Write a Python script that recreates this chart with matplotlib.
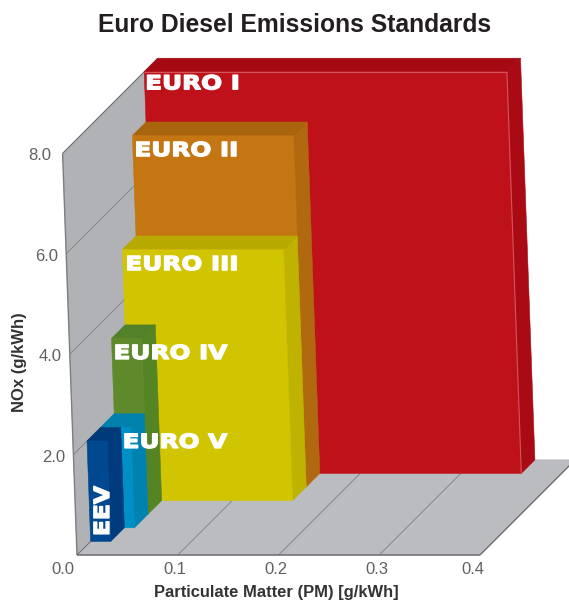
import matplotlib
matplotlib.use("Agg")
import matplotlib.pyplot as plt
from matplotlib.patches import Polygon
from matplotlib.patheffects import AbstractPathEffect
from matplotlib.transforms import Affine2D

# data, back to front
standards = ["EURO I", "EURO II", "EURO III", "EURO IV", "EURO V", "EEV"]
pm_limits = [0.36, 0.16, 0.16, 0.03, 0.03, 0.02]
nox_limits = [8.0, 7.0, 5.0, 3.5, 2.0, 2.0]
depth_slots = [6, 5, 4, 3, 2, 1]

pm_ticks = [0.0, 0.1, 0.2, 0.3, 0.4]
nox_ticks = [2.0, 4.0, 6.0, 8.0]

front_colors = ["#bf111a", "#c47612", "#d1c400", "#5f8a2c", "#0090c6", "#00488f"]
side_colors = ["#aa0a14", "#b0690f", "#bfb200", "#558425", "#0082b0", "#003c7d"]
top_colors = ["#a50a12", "#a9650d", "#b7a900", "#53812a", "#0081ad", "#003a78"]

# label offset from the top left corner of each front face
label_offsets = [(1, 12), (2, 15), (3, 15), (2, 15), (22, 15), (16, 70)]

ORIGIN_X, ORIGIN_Y = 77, 555
PM_SCALE = 1007.5
NOX_SCALE = 50.2
NOX_LEAN = 1.8
SLOT = 13.6
N_SLOTS = 7


class Stretch(AbstractPathEffect):
    # the bar labels are set in an extended face, so widen the glyphs around the anchor
    def __init__(self, anchor, sx=1.0, sy=1.0, stroke=0.5):
        super().__init__()
        self.anchor = anchor
        self.sx = sx
        self.sy = sy
        self.stroke = stroke

    def draw_path(self, renderer, gc, tpath, affine, rgbFace=None):
        ax0, ay0 = self.anchor
        t = affine + Affine2D().translate(-ax0, -ay0).scale(self.sx, self.sy).translate(ax0, ay0)
        gc0 = renderer.new_gc()
        gc0.copy_properties(gc)
        gc0.set_foreground("white")
        gc0.set_linewidth(self.stroke)
        renderer.draw_path(gc0, tpath, t, rgbFace)
        gc0.restore()


def project(pm, nox, slot):
    # simple oblique projection, the walls lean a bit towards the top
    off = slot * SLOT
    x = ORIGIN_X + pm * PM_SCALE - nox * NOX_LEAN + off
    y = ORIGIN_Y - nox * NOX_SCALE - off
    return x, y


def face(ax, corners, color, z):
    pts = [project(*c) for c in corners]
    ax.add_patch(Polygon(pts, closed=True, facecolor=color, edgecolor=color, linewidth=0.4, zorder=z))


def line(ax, a, b, color, lw, z):
    p, q = project(*a), project(*b)
    ax.plot([p[0], q[0]], [p[1], q[1]], color=color, lw=lw, zorder=z, solid_capstyle="butt")


plt.rcParams["font.family"] = ["Liberation Sans", "DejaVu Sans"]
fig = plt.figure(figsize=(5.69, 6.0), dpi=100)
ax = fig.add_axes([0, 0, 1, 1])
ax.set_xlim(0, 569)
ax.set_ylim(600, 0)
ax.axis("off")

pm_max = pm_ticks[-1]
nox_max = nox_ticks[-1]

# floor and left wall
face(ax, [(0, 0, 0), (pm_max, 0, 0), (pm_max, 0, N_SLOTS), (0, 0, N_SLOTS)], "#bbbcbf", 1)
face(ax, [(0, 0, 0), (0, nox_max, 0), (0, nox_max, N_SLOTS), (0, 0, N_SLOTS)], "#b1b2b6", 1)

for pm in pm_ticks[1:-1]:
    line(ax, (pm, 0, 0), (pm, 0, N_SLOTS), "#808184", 0.6, 2)
for nox in nox_ticks[:-1]:
    line(ax, (0, nox, 0), (0, nox, N_SLOTS), "#808184", 0.6, 2)

line(ax, (0, 0, 0), (pm_max, 0, 0), "#6d6e71", 1.1, 3)
line(ax, (pm_max, 0, 0), (pm_max, 0, N_SLOTS), "#6d6e71", 1.0, 3)
line(ax, (0, 0, 0), (0, nox_max, 0), "#7d7e81", 1.0, 3)
line(ax, (0, nox_max, 0), (0, nox_max, N_SLOTS), "#6d6e71", 0.8, 3)
line(ax, (0, 0, 0), (0, 0, N_SLOTS), "#6d6e71", 0.7, 3)

# bars, back one first so the nearer ones cover it
for i, name in enumerate(standards):
    pm, nox, s = pm_limits[i], nox_limits[i], depth_slots[i]
    z = 10 + i
    face(ax, [(pm, 0, s), (pm, nox, s), (pm, nox, s + 1), (pm, 0, s + 1)], side_colors[i], z)
    face(ax, [(0, nox, s), (pm, nox, s), (pm, nox, s + 1), (0, nox, s + 1)], top_colors[i], z)
    face(ax, [(0, 0, s), (pm, 0, s), (pm, nox, s), (0, nox, s)], front_colors[i], z)

    tx, ty = project(0, nox, s)
    dx, dy = label_offsets[i]
    anchor = ax.transData.transform((tx + dx, ty + dy))
    if name == "EEV":
        ax.text(tx + dx, ty + dy, name, color="white", fontsize=15, fontweight="bold", family="DejaVu Sans",
                rotation=90, ha="center", va="center", zorder=30,
                path_effects=[Stretch(anchor, sy=1.12, stroke=1.0)])
    else:
        ax.text(tx + dx, ty + dy, name, color="white", fontsize=14, fontweight="bold", family="DejaVu Sans",
                ha="left", va="center", zorder=30,
                path_effects=[Stretch(anchor, sx=1.27, stroke=1.0)])

# light highlight along the red bar
line(ax, (0, 8.0, 6), (0.36, 8.0, 6), "#d4545c", 0.8, 11)
line(ax, (0.36, 0, 6), (0.36, 8.0, 6), "#d4545c", 0.8, 11)

# tick labels
for pm in pm_ticks:
    x, y = project(pm, 0, 0)
    shift = -14 if pm == 0 else (-7 if pm == pm_max else -2.5)
    ax.text(x + shift, y + 14, f"{pm:.1f}", fontsize=12, color="#5f6062", ha="center", va="center")
for nox in nox_ticks:
    x, y = project(0, nox, 0)
    shift = -11 if nox == nox_max else -8
    ax.text(x + shift, y + 2.5, f"{nox:.1f}", fontsize=12, color="#5f6062", ha="right", va="center")

ax.text(295, 25, "Euro Diesel Emissions Standards", fontsize=17.7, fontweight="bold", color="#231f20",
        ha="center", va="center")
ax.text(276.5, 592, "Particulate Matter (PM) [g/kWh]", fontsize=11.9, color="#333333", ha="center", va="center",
        fontweight="bold")
ax.text(20, 362, "NOx (g/kWh)", fontsize=12, color="#333333", rotation=90, ha="center", va="center",
        fontweight="bold")

fig.savefig("out.png", dpi=100)
